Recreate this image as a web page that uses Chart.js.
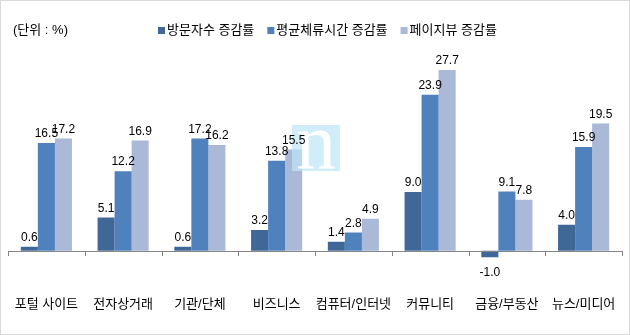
<!DOCTYPE html>
<html>
<head>
<meta charset="utf-8">
<script src="https://cdn.jsdelivr.net/npm/chart.js@4/dist/chart.umd.min.js"></script>
<style>
  html, body { margin: 0; padding: 0; background: #fff; }
  #wrap { width: 628px; height: 333px; border: 1px solid #d9d9d9; position: relative; }
</style>
</head>
<body>
<div id="wrap"><canvas id="chart" width="628" height="333"></canvas></div>
<script>
// 업종별 증감률 (단위: %)
const categories = ['포털 사이트', '전자상거래', '기관/단체', '비즈니스', '컴퓨터/인터넷', '커뮤니티', '금융/부동산', '뉴스/미디어'];
const seriesNames = ['방문자수 증감률', '평균체류시간 증감률', '페이지뷰 증감률'];
const visitors = [0.6, 5.1, 0.6, 3.2, 1.4, 9.0, -1.0, 4.0];
const stayTime = [16.5, 12.2, 17.2, 13.8, 2.8, 23.9, 9.1, 15.9];
const pageViews = [17.2, 16.9, 16.2, 15.5, 4.9, 27.7, 7.8, 19.5];
const colors = ['#3F6898', '#4F81BD', '#AAB9D8'];

const FONT = '"Liberation Sans", "Noto Sans CJK KR", sans-serif';

// zero line, category ticks, value labels, unit note, legend and logo
const decor = {
  id: 'decor',
  afterDatasetsDraw(chart) {
    const { ctx, chartArea, scales } = chart;
    const y0 = scales.y.getPixelForValue(0);
    const step = (chartArea.right - chartArea.left) / categories.length;

    ctx.save();
    // axis line at zero
    ctx.strokeStyle = '#868686';
    ctx.lineWidth = 1;
    ctx.beginPath();
    ctx.moveTo(chartArea.left, Math.round(y0) + 0.5);
    ctx.lineTo(chartArea.right, Math.round(y0) + 0.5);
    for (let i = 0; i <= categories.length; i++) {
      const x = Math.round(chartArea.left + i * step) + 0.5;
      ctx.moveTo(x, Math.round(y0));
      ctx.lineTo(x, Math.round(y0) + 5);
    }
    ctx.stroke();

    // logo square
    ctx.fillStyle = 'rgba(190,230,248,0.7)';
    ctx.fillRect(291, 124, 48, 46);
    ctx.fillStyle = '#fff';
    ctx.font = '80px "Liberation Serif", serif';
    ctx.textAlign = 'center';
    ctx.textBaseline = 'alphabetic';
    ctx.fillText('n', 315, 167);

    // value labels
    ctx.fillStyle = '#000';
    ctx.font = '12px ' + FONT;
    chart.data.datasets.forEach((ds, di) => {
      chart.getDatasetMeta(di).data.forEach((bar, i) => {
        const v = ds.data[i];
        const txt = v.toFixed(1);
        if (v >= 0) {
          ctx.textBaseline = 'bottom';
          ctx.fillText(txt, bar.x, bar.y - 3);
        } else {
          ctx.textBaseline = 'top';
          ctx.fillText(txt, bar.x, bar.y + 9);
        }
      });
    });

    // unit note
    ctx.textAlign = 'left';
    ctx.textBaseline = 'middle';
    ctx.font = '13px ' + FONT;
    ctx.fillText('(단위 : %)', 12, 29);

    // legend
    let lx = 157;
    chart.data.datasets.forEach((ds) => {
      ctx.fillStyle = ds.backgroundColor;
      ctx.fillRect(lx, 26, 7, 7);
      ctx.fillStyle = '#000';
      ctx.fillText(ds.label, lx + 9, 29);
      lx += 9 + ctx.measureText(ds.label).width + 13;
    });
    ctx.restore();
  }
};

new Chart(document.getElementById('chart'), {
  type: 'bar',
  data: {
    labels: categories,
    datasets: [
      { label: seriesNames[0], data: visitors, backgroundColor: colors[0] },
      { label: seriesNames[1], data: stayTime, backgroundColor: colors[1] },
      { label: seriesNames[2], data: pageViews, backgroundColor: colors[2] }
    ]
  },
  options: {
    responsive: false,
    animation: false,
    events: [],
    layout: { padding: { top: 54, left: 7, right: 7, bottom: 9 } },
    datasets: { bar: { barPercentage: 1, categoryPercentage: 0.666, borderWidth: 0 } },
    scales: {
      x: {
        grid: { display: false, drawTicks: false },
        border: { display: false },
        ticks: { color: '#000', font: { family: FONT, size: 13 }, padding: 13, maxRotation: 0, autoSkip: false }
      },
      y: {
        display: false,
        min: -5,
        max: 30
      }
    },
    plugins: { legend: { display: false }, tooltip: { enabled: false } }
  },
  plugins: [decor]
});
</script>
</body>
</html>
